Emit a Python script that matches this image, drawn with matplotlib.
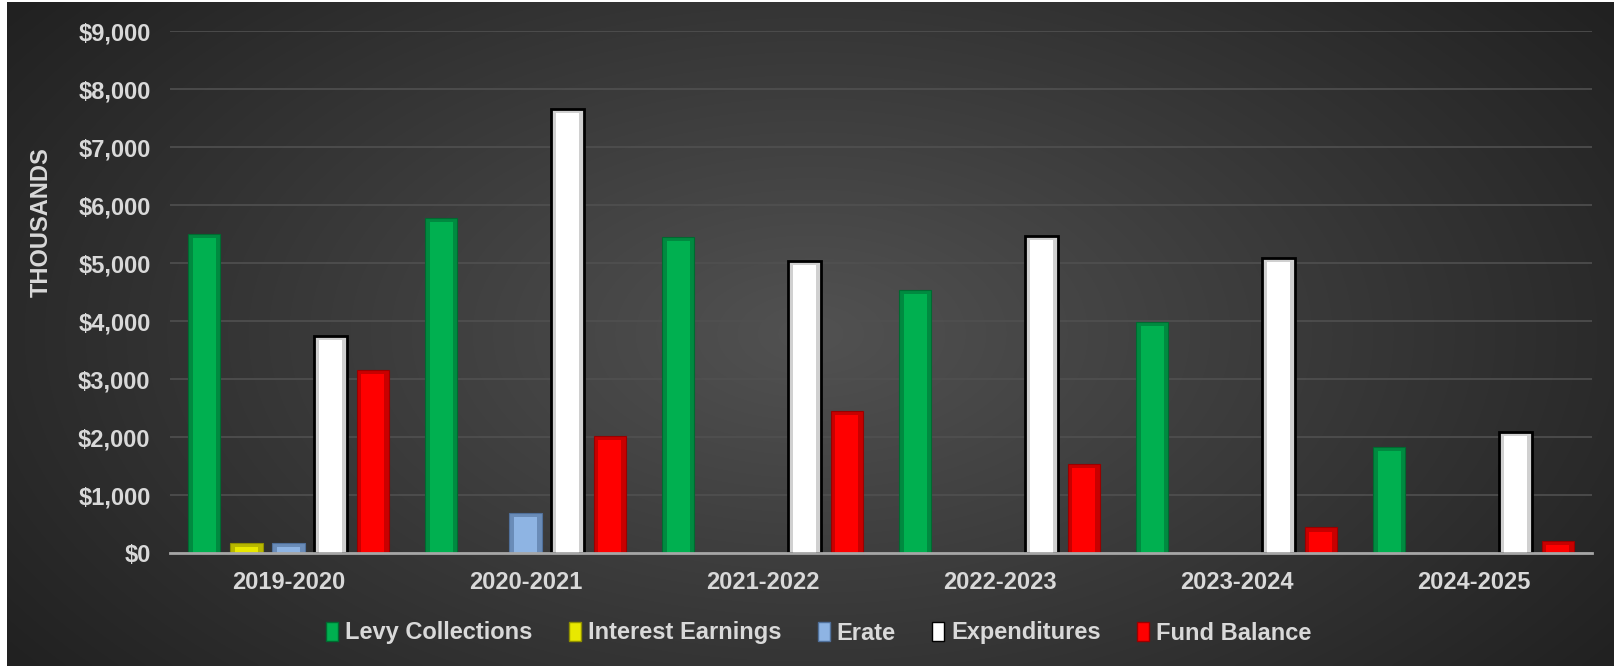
import numpy as np
import matplotlib
matplotlib.use("Agg")
import matplotlib.pyplot as plt
from matplotlib.ticker import FuncFormatter
from matplotlib.patches import Patch

years = ["2019-2020", "2020-2021", "2021-2022", "2022-2023", "2023-2024", "2024-2025"]
series_names = ["Levy Collections", "Interest Earnings", "Erate", "Expenditures", "Fund Balance"]
levy = [5500, 5770, 5450, 4530, 3980, 1830]
interest = [175, 0, 0, 0, 0, 0]
erate = [170, 690, 0, 0, 0, 0]
expenditures = [3750, 7650, 5040, 5470, 5080, 2080]
fund_balance = [3160, 2010, 2450, 1530, 440, 200]
y_ticks = [0, 1000, 2000, 3000, 4000, 5000, 6000, 7000, 8000, 9000]

series = [levy, interest, erate, expenditures, fund_balance]
base_colors = ["#00B050", "#E8E800", "#8EB4E3", "#FFFFFF", "#FF0000"]
side_colors = ["#008A40", "#B8B800", "#6A8CB8", "#D0D0D0", "#C80000"]
edge_colors = ["#006A30", "#909000", "#50709A", "#000000", "#9A0000"]
edge_widths = [0.8, 0.8, 0.8, 2.0, 0.8]

plt.rcParams['font.family'] = ['Liberation Sans', 'DejaVu Sans']
text_color = "#D9D9D9"
fs = 17

W, H = 1615, 669
fig = plt.figure(figsize=(W / 100, H / 100), dpi=100, facecolor="white")

# background gradient
bg = fig.add_axes([7 / W, 3 / H, 1 - 7 / W, 1 - 5 / H], zorder=-10)
yy, xx = np.mgrid[0:1:300j, 0:1:700j]
r = np.sqrt(((xx - 0.5) / 0.55) ** 2 + ((yy - 0.5) / 0.75) ** 2)
val = np.clip(0.32 - 0.17 * r, 0.13, 0.35)
bg.imshow(np.dstack([val, val, val]), aspect="auto", extent=[0, 1, 0, 1],
          interpolation="bicubic")
bg.set_axis_off()

left, right = 170 / W, 1592 / W
bottom, top = 1 - 553 / H, 1 - 31 / H
ax = fig.add_axes([left, bottom, right - left, top - bottom])
ax.set_facecolor("none")

x = np.arange(len(years))
step = 0.178
width = 0.138
bevel = 70
for j, (vals, bc, sc, ec, ew) in enumerate(zip(series, base_colors, side_colors, edge_colors, edge_widths)):
    pos = x + (j - 2) * step
    vals = np.array(vals, dtype=float)
    mask = vals > 0
    ax.bar(pos[mask], vals[mask], width=width, color=sc, edgecolor=ec,
           linewidth=ew, zorder=3)
    inner_h = np.maximum(vals[mask] - bevel, 0)
    ax.bar(pos[mask], inner_h, width=width * 0.7, color=bc, linewidth=0, zorder=4)

ax.set_xlim(-0.5, len(years) - 0.5)
ax.set_ylim(0, 9000)
ax.set_yticks(y_ticks)
ax.yaxis.set_major_formatter(FuncFormatter(lambda v, p: f"${v:,.0f}"))
ax.set_xticks(x)
ax.set_xticklabels(years)
ax.tick_params(axis="both", length=0, labelsize=fs, labelcolor=text_color)
ax.tick_params(axis="y", pad=14)
ax.tick_params(axis="x", pad=13)
for lab in ax.get_xticklabels() + ax.get_yticklabels():
    lab.set_fontweight("bold")
ax.grid(axis="y", color="#505050", linewidth=1.2, zorder=0)
ax.set_axisbelow(True)
for s in ["top", "right", "left"]:
    ax.spines[s].set_visible(False)
ax.spines["bottom"].set_color("#A6A6A6")
ax.spines["bottom"].set_linewidth(2)
ax.spines["bottom"].set_zorder(5)

fig.text(41 / W, 1 - 222 / H, "THOUSANDS", rotation=90, ha="center", va="center",
         fontsize=fs, fontweight="bold", color=text_color)

handles = [Patch(facecolor=bc, edgecolor=ec, linewidth=1) for bc, ec in zip(base_colors, edge_colors)]
leg = fig.legend(handles, series_names, loc="center", bbox_to_anchor=(0.507, 1 - 633 / H),
                 ncol=5, frameon=False, handlelength=0.5, handleheight=0.85,
                 handletextpad=0.3, columnspacing=1.55,
                 prop={"size": fs, "weight": "bold"})
for t in leg.get_texts():
    t.set_color(text_color)

fig.savefig("out.png", dpi=100, facecolor=fig.get_facecolor())
